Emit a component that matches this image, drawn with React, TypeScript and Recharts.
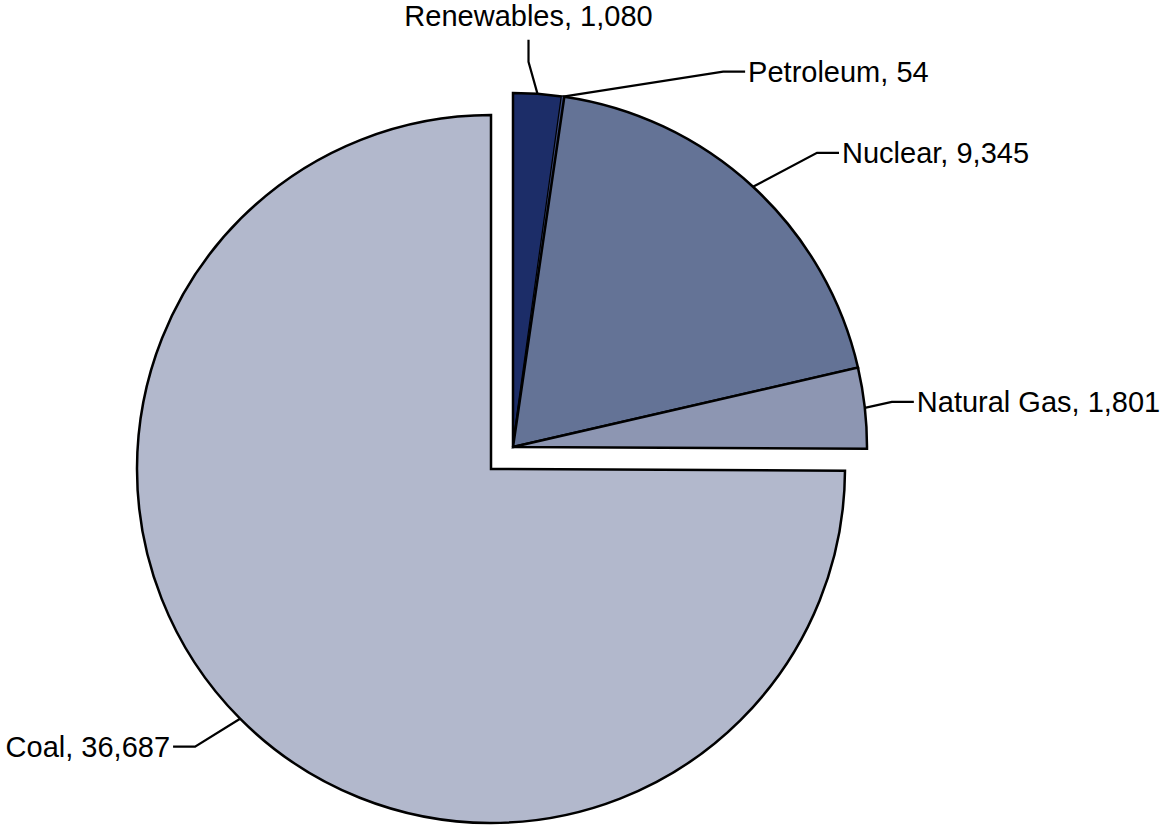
import { Cell, Pie, PieChart } from "recharts";

const sources = ["Renewables", "Petroleum", "Nuclear", "Natural Gas", "Coal"];
const generation = [1080, 54, 9345, 1801, 36687];
const sliceColors = ["#1c2d68", "#3f4f85", "#647396", "#8d96b2", "#b2b8cc"];

const data = sources.map((name, i) => ({ name, value: generation[i] }));

// the exploded slice (Coal) is drawn by a second pie, shifted down-left
const EXPLODED = "Coal";
const CX = 513;
const CY = 447;
const R = 354;
const SHIFT = 22;

// elbow offset from the arc point, then tail direction for each leader line
const leaders: Record<string, { dx: number; dy: number; tail: "up" | "right" | "left" }> = {
  Renewables: { dx: -9, dy: -32, tail: "up" },
  Petroleum: { dx: 160, dy: -25, tail: "right" },
  Nuclear: { dx: 64, dy: -34, tail: "right" },
  "Natural Gas": { dx: 27, dy: -6, tail: "right" },
  Coal: { dx: -45, dy: 28, tail: "left" },
};

const RADIAN = Math.PI / 180;
const fmt = (v: number) => v.toLocaleString("en-US");

function renderLabel(show: (name: string) => boolean) {
  return (props: any) => {
    const { cx, cy, midAngle, outerRadius, name, value } = props;
    if (!show(name)) return null;
    const x0 = cx + outerRadius * Math.cos(-midAngle * RADIAN);
    const y0 = cy + outerRadius * Math.sin(-midAngle * RADIAN);
    const l = leaders[name];
    const x1 = x0 + l.dx;
    const y1 = y0 + l.dy;
    const text = `${name}, ${fmt(value)}`;
    const font = { fontFamily: "'Liberation Sans', Arial, sans-serif", fontSize: 29 };
    if (l.tail === "up") {
      return (
        <g>
          <polyline points={`${x0},${y0} ${x1},${y1} ${x1},${y1 - 22}`} fill="none" stroke="#000" strokeWidth={2.2} />
          <text x={x1} y={y1 - 36} textAnchor="middle" fill="#000" {...font}>
            {text}
          </text>
        </g>
      );
    }
    const dir = l.tail === "right" ? 1 : -1;
    const x2 = x1 + dir * 22;
    return (
      <g>
        <polyline points={`${x0},${y0} ${x1},${y1} ${x2},${y1}`} fill="none" stroke="#000" strokeWidth={2.2} />
        <text
          x={x2 + dir * 3}
          y={y1 + 10}
          textAnchor={dir === 1 ? "start" : "end"}
          fill="#000"
          {...font}
        >
          {text}
        </text>
      </g>
    );
  };
}

export default function App() {
  return (
    <div style={{ position: "absolute", left: 0, top: 0, background: "#fff" }}>
      <PieChart width={1163} height={827} margin={{ top: 0, right: 0, bottom: 0, left: 0 }}>
        <Pie
          data={data}
          dataKey="value"
          nameKey="name"
          cx={CX}
          cy={CY}
          outerRadius={R}
          startAngle={90}
          endAngle={-270}
          isAnimationActive={false}
          labelLine={false}
          label={renderLabel((n) => n !== EXPLODED)}
        >
          {data.map((d, i) =>
            d.name === EXPLODED ? (
              <Cell key={d.name} fill="none" stroke="none" />
            ) : d.name === "Petroleum" ? (
              <Cell key={d.name} fill={sliceColors[i]} stroke="none" />
            ) : (
              <Cell key={d.name} fill={sliceColors[i]} stroke="#000" strokeWidth={2.5} />
            )
          )}
        </Pie>
        <Pie
          data={data}
          dataKey="value"
          nameKey="name"
          cx={CX - SHIFT}
          cy={CY + SHIFT}
          outerRadius={R}
          startAngle={90}
          endAngle={-270}
          isAnimationActive={false}
          labelLine={false}
          label={renderLabel((n) => n === EXPLODED)}
        >
          {data.map((d, i) =>
            d.name === EXPLODED ? (
              <Cell key={d.name} fill={sliceColors[i]} stroke="#000" strokeWidth={2.5} />
            ) : (
              <Cell key={d.name} fill="none" stroke="none" />
            )
          )}
        </Pie>
      </PieChart>
    </div>
  );
}
